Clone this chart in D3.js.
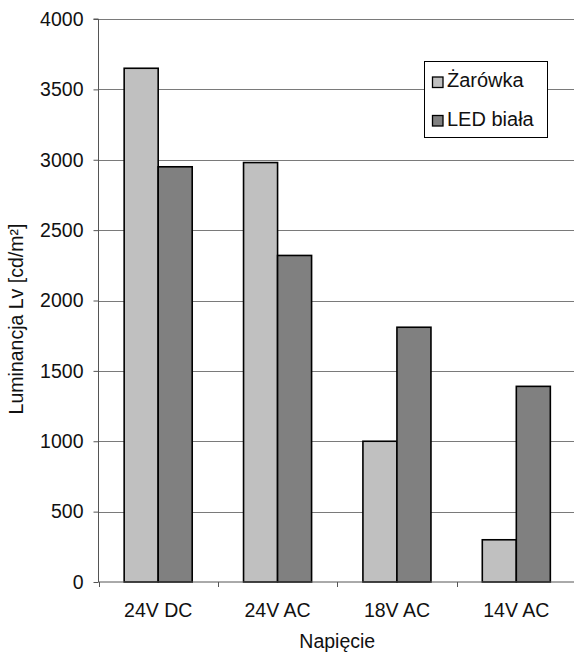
<!DOCTYPE html>
<html><head><meta charset="utf-8">
<script src="https://cdn.jsdelivr.net/npm/d3@7"></script>
<style>body{margin:0;background:#fff}svg{display:block;font-family:"Liberation Sans",Arial,sans-serif}</style>
</head><body>
<script>
const categories = ["24V DC", "24V AC", "18V AC", "14V AC"];
const seriesNames = ["Żarówka", "LED biała"];
const zarowka = [3650, 2980, 1000, 300];
const ledBiala = [2950, 2320, 1810, 1390];
const yTicks = [0, 500, 1000, 1500, 2000, 2500, 3000, 3500, 4000];
const colors = ["#c0c0c0", "#808080"];

const W = 574, H = 655;
const FS = 19.5;
const m = {left: 98.5, right: 576, top: 19, bottom: 582};
const svg = d3.select("body").append("svg").attr("width", W).attr("height", H);

const x = d3.scaleBand().domain(categories).range([m.left, m.right]).paddingInner(0.43).paddingOuter(0.215);
const xs = d3.scaleBand().domain(seriesNames).range([0, x.bandwidth()]);
const y = d3.scaleLinear().domain([0, 4000]).range([m.bottom, m.top]);
const xCat = d3.scaleBand().domain(categories).range([m.left, m.right]);

// gridlines
svg.append("g").selectAll("line").data(yTicks.filter(d => d > 0)).join("line")
  .attr("x1", m.left).attr("x2", W).attr("y1", d => Math.round(y(d)) + 0.5).attr("y2", d => Math.round(y(d)) + 0.5)
  .attr("stroke", "#7a7a7a").attr("stroke-width", 1);

// bars
const data = categories.map((c, i) => ({c, vals: [zarowka[i], ledBiala[i]]}));
const g = svg.append("g").selectAll("g").data(data).join("g").attr("transform", d => `translate(${x(d.c)},0)`);
g.selectAll("rect").data(d => d.vals.map((v, j) => ({v, s: seriesNames[j], j}))).join("rect")
  .attr("x", d => xs(d.s)).attr("width", xs.bandwidth())
  .attr("y", d => y(d.v)).attr("height", d => y(0) - y(d.v))
  .attr("fill", d => colors[d.j]).attr("stroke", "#000").attr("stroke-width", 1.6);

// y axis
const yAxis = d3.axisLeft(y).tickValues(yTicks).tickSize(5).tickPadding(10).tickFormat(d3.format("d"));
const ya = svg.append("g").attr("transform", `translate(${m.left},0)`).call(yAxis);
ya.attr("font-size", FS).attr("font-family", "Liberation Sans, Arial, sans-serif");
ya.select(".domain").attr("stroke", "#555").attr("d", `M-5,${m.top}H0V${m.bottom}`);
ya.selectAll(".tick line").attr("stroke", "#555");
ya.selectAll("text").attr("fill", "#111");

// x axis
const xAxis = d3.axisBottom(xCat).tickSize(0).tickPadding(21);
const xa = svg.append("g").attr("transform", `translate(0,${m.bottom})`).call(xAxis);
xa.attr("font-size", FS).attr("font-family", "Liberation Sans, Arial, sans-serif");
xa.select(".domain").attr("stroke", "#555").attr("d", `M${m.left},0H${W}`);
xa.selectAll("text").attr("fill", "#111");
svg.append("g").selectAll("line").data(categories).join("line")
  .attr("x1", d => Math.round(xCat(d)) + 0.5).attr("x2", d => Math.round(xCat(d)) + 0.5)
  .attr("y1", m.bottom).attr("y2", m.bottom + 5).attr("stroke", "#555");

// axis titles
svg.append("text").attr("x", (m.left + m.right) / 2).attr("y", 648).attr("text-anchor", "middle")
  .attr("font-size", FS).attr("fill", "#111").text("Napięcie");
svg.append("text").attr("transform", `translate(23,319) rotate(-90)`).attr("text-anchor", "middle")
  .attr("font-size", FS).attr("fill", "#111").text("Luminancja Lv [cd/m²]");

// legend
const lg = svg.append("g").attr("transform", "translate(424.5,61.5)");
lg.append("rect").attr("width", 123).attr("height", 76).attr("fill", "#fff").attr("stroke", "#000").attr("stroke-width", 1);
seriesNames.forEach((s, i) => {
  const yy = 15.5 + i * 38.5;
  lg.append("rect").attr("x", 8).attr("y", yy).attr("width", 10.5).attr("height", 10.5)
    .attr("fill", colors[i]).attr("stroke", "#000").attr("stroke-width", 1.3);
  lg.append("text").attr("x", 22.5).attr("y", yy + 10).attr("font-size", 20).attr("fill", "#111").text(s);
});
</script>
</body></html>
